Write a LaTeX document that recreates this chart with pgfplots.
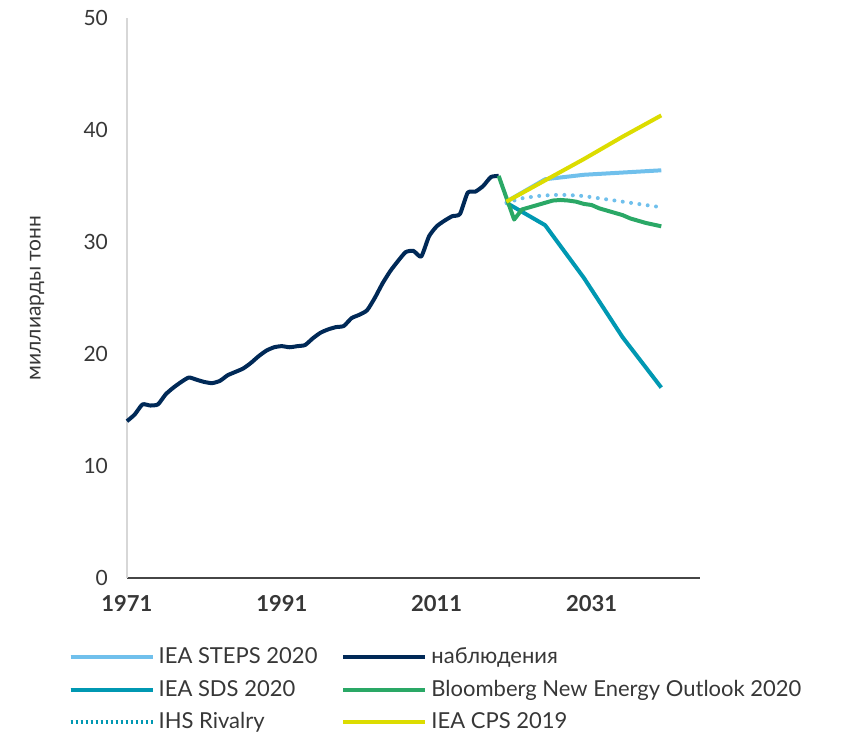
\documentclass[border=0pt]{standalone}
\usepackage{fontspec}
\setmainfont{Lato}
\usepackage{pgfplots}
\pgfplotsset{compat=1.18}
\definecolor{obsnavy}{RGB}{0,41,87}
\definecolor{stepsblue}{RGB}{112,192,236}
\definecolor{sdsteal}{RGB}{0,152,178}
\definecolor{bnefgreen}{RGB}{42,168,102}
\definecolor{cpsyellow}{RGB}{220,220,0}
\definecolor{txtgray}{RGB}{55,55,55}
\definecolor{axgray}{RGB}{215,215,215}
\definecolor{axdark}{RGB}{70,70,70}

\pgfplotstableread{
year val
1971 14.0
1972 14.6
1973 15.5
1974 15.4
1975 15.5
1976 16.4
1977 17.0
1978 17.5
1979 17.9
1980 17.7
1981 17.5
1982 17.4
1983 17.6
1984 18.1
1985 18.4
1986 18.7
1987 19.2
1988 19.8
1989 20.3
1990 20.6
1991 20.7
1992 20.6
1993 20.7
1994 20.8
1995 21.4
1996 21.9
1997 22.2
1998 22.4
1999 22.5
2000 23.2
2001 23.5
2002 23.9
2003 25.0
2004 26.3
2005 27.4
2006 28.3
2007 29.1
2008 29.2
2009 28.7
2010 30.5
2011 31.4
2012 31.9
2013 32.3
2014 32.5
2015 34.4
2016 34.5
2017 35.0
2018 35.8
2019 35.9
}\observed

\pgfplotstableread{
year val
2019 35.9
2020 33.95
2021 32.0
2022 32.9
2023 33.1
2024 33.3
2025 33.5
2026 33.7
2027 33.75
2028 33.7
2029 33.6
2030 33.4
2031 33.3
2032 33.0
2033 32.8
2034 32.6
2035 32.4
2036 32.1
2037 31.9
2038 31.7
2039 31.55
2040 31.4
}\bnef

\pgfplotstableread{
year val
2020 33.6
2025 35.6
2030 36.0
2035 36.2
2040 36.4
}\steps

\pgfplotstableread{
year val
2020 33.5
2025 31.5
2030 26.8
2035 21.5
2040 17.0
}\sds

\pgfplotstableread{
year val
2020 33.5
2022 33.9
2024 34.1
2026 34.2
2028 34.2
2030 34.1
2032 33.9
2034 33.7
2036 33.5
2038 33.3
2040 33.1
}\ihs

\pgfplotstableread{
year val
2020 33.6
2025 35.5
2030 37.4
2035 39.4
2040 41.3
}\cps

\begin{document}
\begin{tikzpicture}
\begin{axis}[
  scale only axis,
  width=286.5pt, height=280pt,
  xmin=1971, xmax=2045,
  ymin=0, ymax=50,
  axis x line=bottom, axis y line=left,
  x axis line style={draw=axdark, line width=1.2pt, -},
  y axis line style={draw=axgray, line width=1pt, -},
  major tick length=0pt,
  xtick={1971,1991,2011,2031},
  xticklabels={1971,1991,2011,2031},
  ytick={0,10,20,30,40,50},
  /pgf/number format/assume math mode=true,
  yticklabel style={font=\fontsize{10.5}{12}\selectfont, color=txtgray, xshift=-6pt},
  xticklabel style={font=\fontsize{11}{13}\selectfont\bfseries, color=txtgray, yshift=-5pt},
  ylabel={миллиарды тонн},
  every axis y label/.style={at={([xshift=-45pt]rel axis cs:0,0.5)}, rotate=90, anchor=center,
    font=\fontsize{10.5}{12}\selectfont, color=txtgray},
  clip=false,
  legend columns=2,
  legend cell align=left,
  legend image code/.code={\draw[#1] (0pt,0pt) -- (32pt,0pt); \path (0pt,0pt) -- (41pt,0pt);},
  legend style={at={(rel axis cs:-0.113,-0.11)}, anchor=north west, draw=none, fill=none,
    font=\fontsize{11}{13}\selectfont, text=txtgray, row sep=2.5pt,
    /tikz/every even column/.append style={column sep=10pt}},
  line join=round,
]
\addplot[forget plot, obsnavy, line width=2pt, smooth, tension=0.35] table[x=year,y=val] {\observed};
\addplot[forget plot, sdsteal, line width=2pt] table[x=year,y=val] {\sds};
\addplot[forget plot, stepsblue, line width=2pt, line cap=round, dash pattern=on 0pt off 4.2pt] table[x=year,y=val] {\ihs};
\addplot[forget plot, stepsblue, line width=2pt] table[x=year,y=val] {\steps};
\addplot[forget plot, bnefgreen, line width=2pt] table[x=year,y=val] {\bnef};
\addplot[forget plot, cpsyellow, line width=2pt] table[x=year,y=val] {\cps};

\addlegendimage{stepsblue, line width=2pt}
\addlegendentry{IEA STEPS 2020}
\addlegendimage{obsnavy, line width=2pt}
\addlegendentry{наблюдения}
\addlegendimage{sdsteal, line width=2pt}
\addlegendentry{IEA SDS 2020}
\addlegendimage{bnefgreen, line width=2pt}
\addlegendentry{Bloomberg New Energy Outlook 2020}
\addlegendimage{sdsteal, line width=2pt, dash pattern=on 1.2pt off 1.3pt}
\addlegendentry{IHS Rivalry}
\addlegendimage{cpsyellow, line width=2pt}
\addlegendentry{IEA CPS 2019}

\path (rel axis cs:-0.2216,-0.2714) rectangle (rel axis cs:1.2513,1.0321);
\end{axis}
\end{tikzpicture}
\end{document}
